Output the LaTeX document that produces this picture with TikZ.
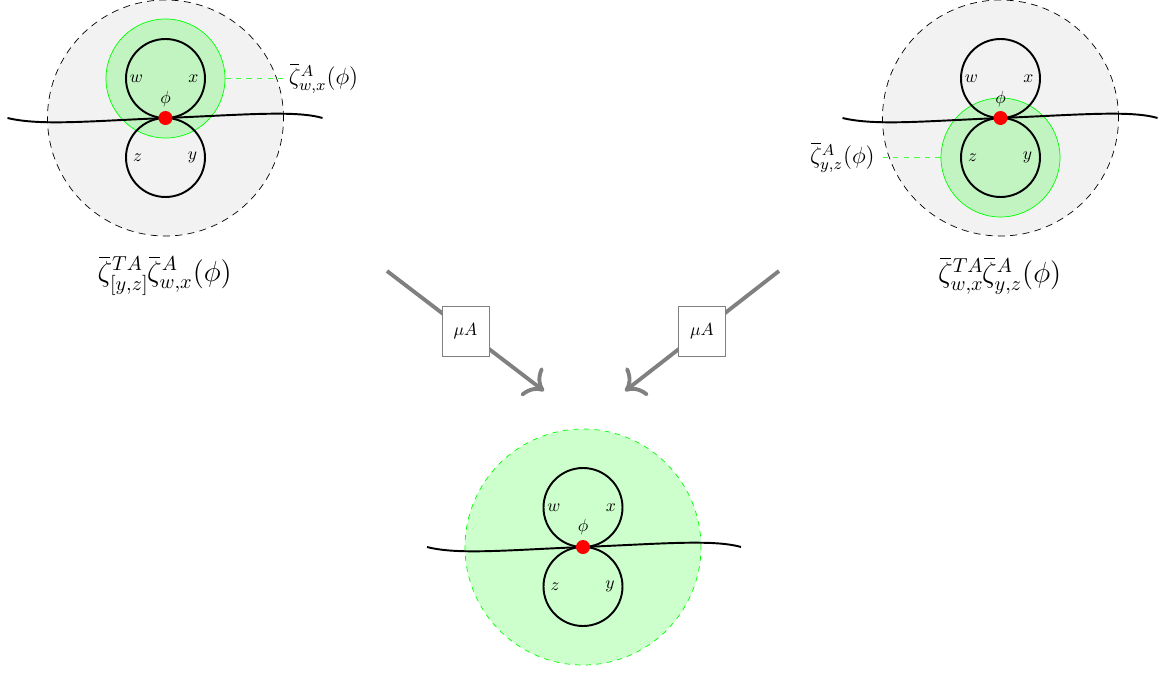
\documentclass[tikz,border=0pt]{standalone}
\usepackage{amsmath,amssymb}
\usepackage{tikz}
\usetikzlibrary{arrows.meta,positioning}
\newcommand{\zb}{\overline{\vphantom{\zeta}\mkern7mu}\mkern-8mu\zeta}

\begin{document}
\begin{tikzpicture}[
  loopline/.style={line width=1.1pt},
  bigdisc/.style={draw, dash pattern=on 4pt off 3pt, fill=black!5},
  greendisc/.style={
    circle,
    draw=green,
    fill=green,
    fill opacity=0.2,
    draw opacity=1,
    inner sep=0pt,
    minimum size=2.38cm
  },
  mergedisc/.style={greendisc, dashed},
  reddot/.style={circle, fill=red, inner sep=0pt, minimum size=0.28cm},
  greenline/.style={dashed, draw=green!75, line width=0.7pt},
  sidelabel/.style={font=\large, scale=1.12},
  complabel/.style={font=\Large, scale=1.15},
  opbox/.style={
    draw=gray,
    fill=white,
    text=black,
    thin,
    minimum width=0.94cm,
    minimum height=1cm
  },
  flow/.style={-{To[scale=1.5]}, gray, line width=2.2pt}
]
  \useasboundingbox (-11.66,-2.5) rectangle (11.52,10.94);

  % left: zeta^A_{w,x} applied
  \begin{scope}[shift={(-8.35,8.58)}]
    \draw[bigdisc] (0,0) circle (2.36);
    \node[greendisc] (gwx) at (0,0.79) {};
    \draw[loopline] (0,0.79) circle (0.79);
    \draw[loopline] (0,-0.79) circle (0.79);
    \draw[loopline] (-3.16,0) .. controls (-2.5,-0.16) and (-1.5,-0.06) .. (0,0)
      .. controls (1.5,0.06) and (2.6,0.16) .. (3.14,0);
    \node[reddot] (pL) at (0,0) {};
    \node (phiL) at (0,0.38) {$\phi$};
    \node (wL) at (-0.58,0.79) {$w$};
    \node (xL) at (0.56,0.79) {$x$};
    \node (zL) at (-0.56,-0.79) {$z$};
    \node (yL) at (0.54,-0.79) {$y$};
    \node[sidelabel, right=1.16cm of gwx] (zwx) {$\zb^A_{w,x}(\phi)$};
    \draw[greenline] (gwx) -- (zwx);
    \node[complabel] (compL) at (0,-3.15) {$\zb^{TA}_{[y,z]}\zb^A_{w,x}(\phi)$};
  \end{scope}

  % right: zeta^A_{y,z} applied
  \begin{scope}[shift={(8.35,8.58)}]
    \draw[bigdisc] (0,0) circle (2.36);
    \node[greendisc] (gyz) at (0,-0.79) {};
    \draw[loopline] (0,0.79) circle (0.79);
    \draw[loopline] (0,-0.79) circle (0.79);
    \draw[loopline] (-3.16,0) .. controls (-2.5,-0.16) and (-1.5,-0.06) .. (0,0)
      .. controls (1.5,0.06) and (2.6,0.16) .. (3.14,0);
    \node[reddot] (pR) at (0,0) {};
    \node (phiR) at (0,0.38) {$\phi$};
    \node (wR) at (-0.58,0.79) {$w$};
    \node (xR) at (0.56,0.79) {$x$};
    \node (zR) at (-0.56,-0.79) {$z$};
    \node (yR) at (0.54,-0.79) {$y$};
    \node[sidelabel, left=1.18cm of gyz] (zyz) {$\zb^A_{y,z}(\phi)$};
    \draw[greenline] (gyz) -- (zyz);
    \node[complabel] (compR) at (0,-3.15) {$\zb^{TA}_{w,x}\zb^A_{y,z}(\phi)$};
  \end{scope}

  % bottom: result
  \node[mergedisc, minimum size=4.72cm] (gall) at (0,0) {};
  \draw[loopline] (0,0.79) circle (0.79);
  \draw[loopline] (0,-0.79) circle (0.79);
  \draw[loopline] (-3.12,0) .. controls (-2.5,-0.16) and (-1.5,-0.06) .. (0,0)
    .. controls (1.5,0.06) and (2.6,0.16) .. (3.16,0);
  \node[reddot] (pB) at (0,0) {};
  \node (phiB) at (0,0.4) {$\phi$};
  \node (wB) at (-0.58,0.79) {$w$};
  \node (xB) at (0.56,0.79) {$x$};
  \node (zB) at (-0.56,-0.79) {$z$};
  \node (yB) at (0.54,-0.79) {$y$};

  \coordinate (sL) at (-3.92,5.52);
  \coordinate (eL) at (-0.78,3.12);
  \coordinate (sR) at (3.92,5.52);
  \coordinate (eR) at (0.84,3.12);
  \draw[flow] (sL) -- node[opbox] (muL) {$\mu A$} (eL);
  \draw[flow] (sR) -- node[opbox] (muR) {$\mu A$} (eR);
\end{tikzpicture}
\end{document}
